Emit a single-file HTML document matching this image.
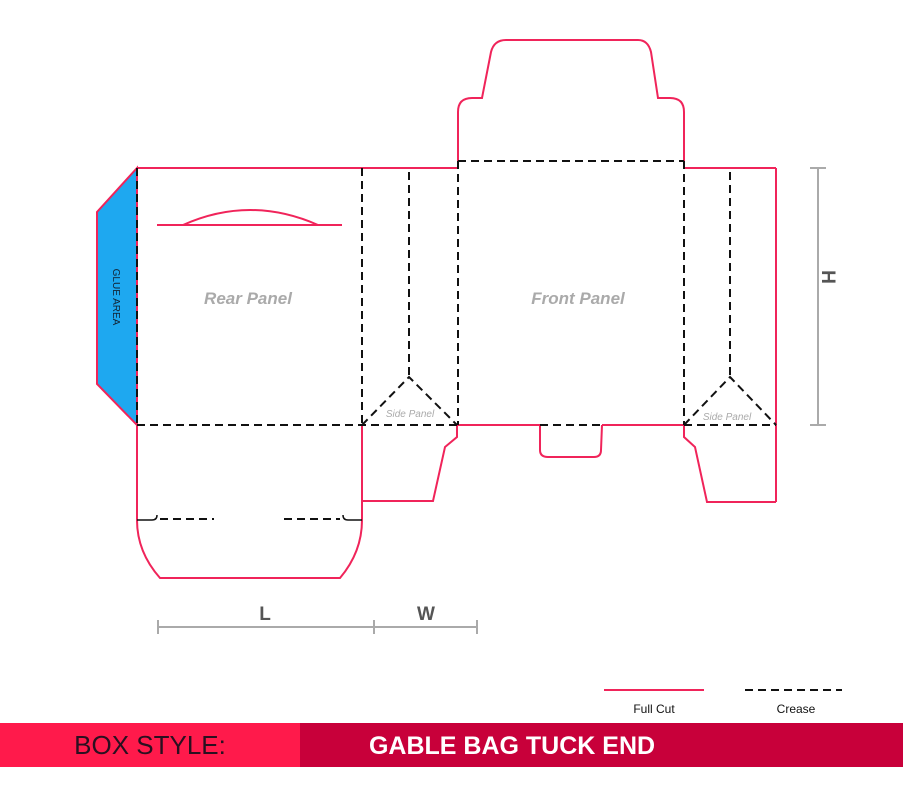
<!DOCTYPE html>
<html><head><meta charset="utf-8"><style>
html,body{margin:0;padding:0;background:#fff;width:903px;height:800px;overflow:hidden}
svg{display:block}
</style></head><body>
<svg width="903" height="800" viewBox="0 0 903 800" xmlns="http://www.w3.org/2000/svg" font-family="Liberation Sans, Arial, sans-serif">
<g fill="none" stroke="#f0245a" stroke-width="2">
<!-- glue -->
<polygon points="137,168 97,212 97,384 137,425" fill="#1ea8f0" stroke="#f0245a"/>
<!-- top edges -->
<line x1="137" y1="168" x2="458" y2="168"/>
<line x1="684" y1="168" x2="776" y2="168"/>
<line x1="776" y1="168" x2="776" y2="502"/>
<!-- top flap -->
<path d="M458,161 L458,112 Q458,98 472,98 L482,98 L491,52 Q494,40 506,40 L638,40 Q648,40 651,52 L658,98 L670,98 Q684,98 684,112 L684,161"/>
<!-- front bottom cut -->
<line x1="458" y1="425" x2="540" y2="425"/>
<line x1="602" y1="425" x2="684" y2="425"/>
<path d="M540,425 L540,450 Q540,457 548,457 L594,457 Q601,457 601,450 L602,425"/>
<!-- left side bottom piece -->
<path d="M362,425 L362,501 L433,501 L445,447 L457,437 L457,425"/>
<!-- right side bottom piece -->
<path d="M684,425 L684,437 L695,447 L707,502 L776,502"/>
<!-- rear bottom flap -->
<path d="M137,425 L137,520 Q137,552 160,578 L340,578 Q362,552 362,520 L362,425"/>
<!-- handle -->
<line x1="157" y1="225" x2="342" y2="225"/>
<path d="M183,225 Q250,195 318,225"/>
<!-- legend -->
<line x1="604" y1="690" x2="704" y2="690"/>
</g>
<g fill="none" stroke="#111" stroke-width="2" stroke-dasharray="8,5">
<line x1="137" y1="168" x2="137" y2="425"/>
<line x1="362" y1="168" x2="362" y2="425"/>
<line x1="409" y1="172" x2="409" y2="377"/>
<line x1="458" y1="161" x2="458" y2="425"/>
<line x1="684" y1="161" x2="684" y2="425"/>
<line x1="730" y1="172" x2="730" y2="377"/>
<line x1="458" y1="161" x2="684" y2="161"/>
<line x1="137" y1="425" x2="458" y2="425"/>
<line x1="540" y1="425" x2="602" y2="425"/>
<line x1="684" y1="425" x2="776" y2="425"/>
<polyline points="362,425 409,377 457,425"/>
<polyline points="684,425 730,377 776,425"/>
<line x1="160" y1="519" x2="214" y2="519"/>
<line x1="284" y1="519" x2="340" y2="519"/>
<line x1="745" y1="690" x2="842" y2="690"/>
</g>
<g fill="none" stroke="#111" stroke-width="1.5">
<path d="M137,520 L152,520 Q157,520 157,515"/>
<path d="M362,520 L348,520 Q343,520 343,515"/>
</g>
<!-- dimensions -->
<g stroke="#aaa" stroke-width="2" fill="none">
<line x1="818" y1="168" x2="818" y2="425"/>
<line x1="810" y1="168" x2="826" y2="168"/>
<line x1="810" y1="425" x2="826" y2="425"/>
<line x1="158" y1="627" x2="477" y2="627"/>
<line x1="158" y1="620" x2="158" y2="634"/>
<line x1="374" y1="620" x2="374" y2="634"/>
<line x1="477" y1="620" x2="477" y2="634"/>
</g>
<g font-weight="bold" fill="#555" font-size="19">
<text x="265" y="620" text-anchor="middle">L</text>
<text x="426" y="620" text-anchor="middle">W</text>
<text transform="translate(822,277) rotate(90)" text-anchor="middle">H</text>
</g>
<g font-weight="bold" font-style="italic" fill="#aaa" font-size="17" text-anchor="middle">
<text x="248" y="304">Rear Panel</text>
<text x="578" y="304">Front Panel</text>
</g>
<g font-style="italic" fill="#aaa" font-size="10" text-anchor="middle">
<text x="410" y="417">Side Panel</text>
<text x="727" y="420">Side Panel</text>
</g>
<text transform="translate(113,297) rotate(90)" font-size="10" fill="#123" text-anchor="middle">GLUE AREA</text>
<text x="654" y="713" font-size="12" text-anchor="middle" fill="#111">Full Cut</text>
<text x="796" y="713" font-size="12" text-anchor="middle" fill="#111">Crease</text>
<rect x="0" y="723" width="300" height="44" fill="#ff1a4b"/>
<rect x="300" y="723" width="603" height="44" fill="#c8003a"/>
<text x="150" y="754" font-size="26" text-anchor="middle" fill="#2a1020">BOX STYLE:</text>
<text x="512" y="754" font-size="25" font-weight="bold" text-anchor="middle" fill="#fff">GABLE BAG TUCK END</text>
</svg>
</body></html>
